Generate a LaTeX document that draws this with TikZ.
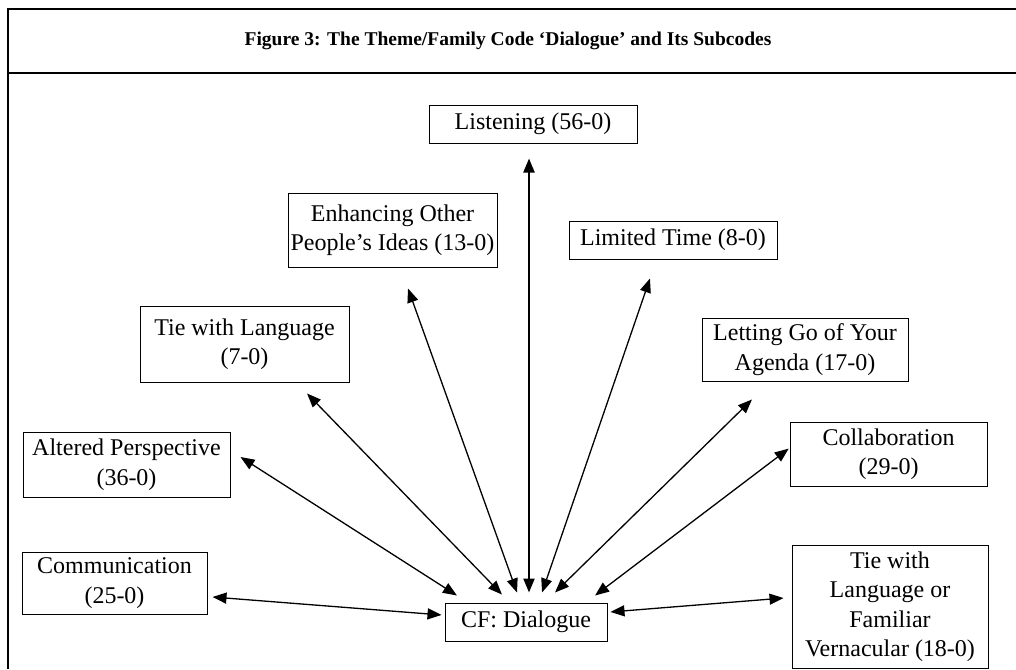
\documentclass[tikz,border=0pt]{standalone}
\usepackage{fontspec}
\setmainfont{Liberation Serif}
\usetikzlibrary{arrows.meta}
\begin{document}
\begin{tikzpicture}[x=1pt,y=-1pt,
  code/.style={draw, line width=1pt, align=center, inner sep=0pt,
    font=\fontsize{24}{29.5}\selectfont},
  link/.style={line width=1.3pt,
    {Triangle[length=14pt,width=11pt]}-{Triangle[length=14pt,width=11pt]}},
  frameline/.style={line width=1.6pt},
]
\useasboundingbox (0,0) rectangle (1016,669);

% outer frame and title rule
\draw[frameline] (8,669) -- (8,9) -- (1016,9);
\draw[line width=2.6pt] (8,73) -- (1016,73);
\node[font=\fontsize{19.5}{24}\selectfont\bfseries] (title) at (508,41)
  {Figure 3: The Theme/Family Code ‘Dialogue’ and Its Subcodes};

% subcodes
\node[code, minimum width=208, minimum height=38] (listen)   at (533,124)   {Listening (56-0)};
\node[code, minimum width=209, minimum height=74] (enhance)  at (392.5,230) {Enhancing Other\\People’s Ideas (13-0)};
\node[code, minimum width=208, minimum height=38] (limited)  at (673,240)   {Limited Time (8-0)};
\node[code, minimum width=209, minimum height=76] (tielang)  at (244.5,344) {Tie with Language\\(7-0)};
\node[code, minimum width=206, minimum height=63] (letting)  at (805,349.5) {Letting Go of Your\\Agenda (17-0)};
\node[code, minimum width=207, minimum height=65] (altered)  at (126.5,464.5) {Altered Perspective\\(36-0)};
\node[code, minimum width=197, minimum height=64] (collab)   at (888.5,454) {Collaboration\\(29-0)};
\node[code, minimum width=185, minimum height=62] (comm)     at (114.5,583) {Communication\\(25-0)};
\node[code, minimum width=196, minimum height=123] (vern)    at (890,606.5) {Tie with\\Language or\\Familiar\\Vernacular (18-0)};

% family code
\node[code, minimum width=162, minimum height=38] (cf) at (526,622) {CF: Dialogue};

% links
\draw[link, line width=2.2pt, shorten <=15pt, shorten >=10pt] ([xshift=-4pt]listen.south) -- ([xshift=3pt]cf.north);
\draw[link, shorten <=22.3pt, shorten >=10.6pt] ([xshift=8pt]enhance.south) -- ([xshift=-5.4pt]cf.north);
\draw[link, shorten <=20.1pt, shorten >=10.6pt] ([xshift=-16.5pt]limited.south) -- ([xshift=12.6pt]cf.north);
\draw[link, shorten <=15.3pt, shorten >=11.1pt] ([xshift=51.9pt]tielang.south) -- ([xshift=-16.3pt]cf.north);
\draw[link, shorten <=25.7pt, shorten >=14.3pt] ([xshift=-34.7pt]letting.south) -- ([xshift=18.8pt]cf.north);
\draw[link, shorten <=11.9pt, shorten >=13pt] ([yshift=13.9pt]altered.east) -- ([xshift=-58.1pt]cf.north);
\draw[link, shorten <=1pt, shorten >=11.6pt] ([yshift=6pt]collab.west) -- ([xshift=59.8pt]cf.north);
\draw[link, shorten <=5pt, shorten >=3pt] ([yshift=-13.6pt]comm.east) -- ([yshift=6.8pt]cf.west);
\draw[link, shorten <=3pt, shorten >=8pt] ([yshift=9.8pt]cf.east) -- ([yshift=9.1pt]vern.west);
\end{tikzpicture}
\end{document}
